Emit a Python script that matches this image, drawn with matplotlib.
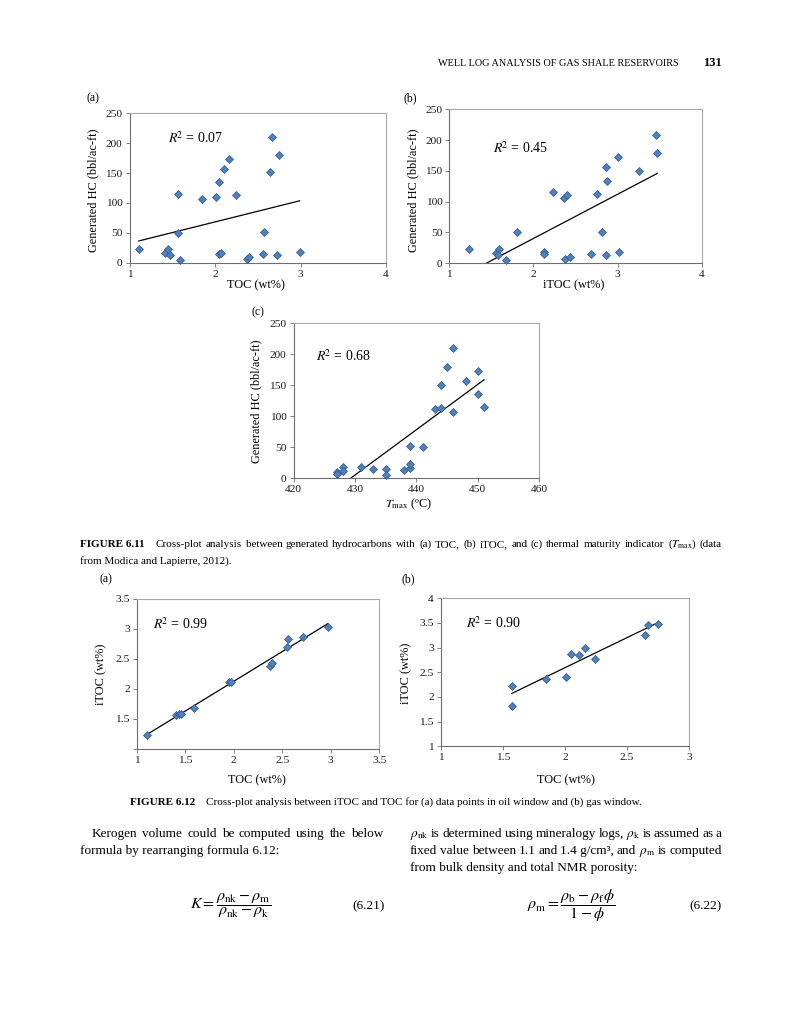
import numpy as np
import matplotlib
matplotlib.use('Agg')
import matplotlib.pyplot as plt

plt.rcParams['font.family'] = ['Liberation Serif', 'DejaVu Serif']
plt.rcParams['mathtext.fontset'] = 'stix'

# ---------------- data ----------------
# Figure 6.11 (a): TOC vs generated HC
toc_a = [1.11, 1.41, 1.45, 1.47, 1.57, 1.57, 1.59, 1.85, 2.01, 2.05, 2.11, 2.16,
         2.24, 2.05, 2.07, 2.37, 2.40, 2.56, 2.57, 2.64, 2.67, 2.75, 2.73, 2.99]
hc_a = [23, 16, 23, 13, 115, 50, 5, 106, 110, 135, 156, 173,
        113, 14, 17, 7, 10, 14, 51, 151, 210, 180, 13, 18]
r2_a = "0.07"

# Figure 6.11 (b): iTOC vs generated HC
itoc_b = [1.23, 1.56, 1.59, 1.58, 1.67, 1.81, 2.12, 2.12, 2.23, 2.36, 2.40, 2.38,
          2.43, 2.68, 2.75, 2.81, 2.86, 2.87, 2.86, 3.00, 3.02, 3.26, 3.46, 3.47]
hc_b = [23, 16, 23, 13, 5, 50, 18, 15, 115, 106, 111, 7,
        10, 15, 113, 51, 156, 134, 13, 172, 18, 150, 209, 179]
r2_b = "0.45"

# Figure 6.11 (c): Tmax vs generated HC
tmax_c = [427, 427, 428, 428, 431, 433, 435, 435, 438, 439, 439, 439,
          441, 443, 444, 444, 445, 446, 446, 448, 450, 450, 451]
hc_c = [10, 7, 18, 12, 17, 14, 14, 5, 13, 16, 23, 51,
        50, 111, 113, 151, 180, 210, 106, 156, 173, 135, 115]
r2_c = "0.68"

# Figure 6.12 (a): oil window TOC vs iTOC
toc_oil = [1.11, 1.41, 1.44, 1.46, 1.59, 1.95, 1.97, 2.37, 2.39, 2.55, 2.56, 2.71, 2.97]
itoc_oil = [1.23, 1.57, 1.59, 1.59, 1.68, 2.11, 2.12, 2.39, 2.43, 2.70, 2.83, 2.87, 3.03]
r2_oil = "0.99"

# Figure 6.12 (b): gas window TOC vs iTOC
toc_gas = [1.57, 1.57, 1.85, 2.01, 2.05, 2.11, 2.16, 2.24, 2.64, 2.67, 2.75]
itoc_gas = [2.23, 1.82, 2.37, 2.40, 2.88, 2.86, 3.00, 2.76, 3.26, 3.46, 3.47]
r2_gas = "0.90"

# ---------------- figure ----------------
W, H = 791, 1024
fig = plt.figure(figsize=(W / 100, H / 100), dpi=100)
fig.patch.set_facecolor('white')
R = fig.canvas.get_renderer()


def P(x, y):
    return (x / W, 1 - y / H)


def add_axes(l, r, t, b):
    return fig.add_axes([l / W, 1 - b / H, (r - l) / W, (b - t) / H])


def style(ax):
    for s in ['left', 'bottom']:
        ax.spines[s].set_color('#6e6e6e')
    for s in ['top', 'right']:
        ax.spines[s].set_color('#a8a8a8')
    for s in ax.spines.values():
        s.set_linewidth(0.8)
    ax.tick_params(direction='out', length=3, width=0.6, color='#6e6e6e',
                   labelsize=8.2, pad=2, labelcolor='#1a1a1a',
                   top=False, right=False)


def fmt(v):
    return ('%g' % v)


def scatter_fit(ax, x, y, r2, r2pos):
    x = np.asarray(x, float)
    y = np.asarray(y, float)
    k, c = np.polyfit(x, y, 1)
    xs = np.array([x.min(), x.max()])
    ax.plot(xs, k * xs + c, color='black', lw=0.9, zorder=2)
    ax.plot(x, y, linestyle='none', marker='D', ms=4.3, mfc='#4f81bd',
            mec='#2f5689', mew=0.5, zorder=3, clip_on=False)
    ax.text(r2pos[0], r2pos[1], r'$R^{\!2}$ = ' + r2, transform=ax.transAxes,
            fontsize=10, ha='left', va='center')


def set_labels(ax, xl, xpos, yl, ypos, size=8.8):
    ax.set_xlabel(xl, fontsize=size)
    ax.xaxis.set_label_coords(*P(*xpos), transform=fig.transFigure)
    ax.xaxis.label.set_va('center')
    ax.set_ylabel(yl, fontsize=size)
    ax.yaxis.set_label_coords(*P(*ypos), transform=fig.transFigure)
    ax.yaxis.label.set_va('center')


def axis_setup(ax, xt, yt, ylabels=None):
    ax.set_xlim(xt[0], xt[-1])
    ax.set_ylim(yt[0], yt[-1])
    ax.set_xticks(xt)
    ax.set_xticklabels([fmt(v) for v in xt])
    ax.set_yticks(yt)
    ax.set_yticklabels(ylabels if ylabels is not None else [fmt(v) for v in yt])


hc_ticks = [0, 50, 100, 150, 200, 250]
hc_label = 'Generated HC (bbl/ac-ft)'

# 6.11 (a)
ax = add_axes(129.5, 386, 113.3, 262.7)
style(ax)
axis_setup(ax, [1, 2, 3, 4], hc_ticks)
scatter_fit(ax, toc_a, hc_a, r2_a, (0.15, 0.835))
set_labels(ax, 'TOC (wt%)', (256, 285), hc_label, (93, 190))
fig.text(*P(93, 98), '(a)', fontsize=8.5, ha='center', va='center')

# 6.11 (b)
ax = add_axes(449.3, 701.7, 109.3, 263.3)
style(ax)
axis_setup(ax, [1, 2, 3, 4], hc_ticks)
scatter_fit(ax, itoc_b, hc_b, r2_b, (0.175, 0.75))
set_labels(ax, 'iTOC (wt%)', (574, 285), hc_label, (413, 190))
fig.text(*P(410, 98), '(b)', fontsize=8.5, ha='center', va='center')

# 6.11 (c)
ax = add_axes(293.5, 539.3, 323.3, 478)
style(ax)
axis_setup(ax, [420, 430, 440, 450, 460], hc_ticks)
scatter_fit(ax, tmax_c, hc_c, r2_c, (0.09, 0.79))
set_labels(ax, r'$T_{\rm max}$ (ºC)', (408, 504), hc_label, (256, 401))
fig.text(*P(258, 312), '(c)', fontsize=8.5, ha='center', va='center')

# 6.12 (a)
ax = add_axes(136.7, 379.3, 599, 749)
style(ax)
yt = [1, 1.5, 2, 2.5, 3, 3.5]
axis_setup(ax, [1, 1.5, 2, 2.5, 3, 3.5], yt, [''] + [fmt(v) for v in yt[1:]])
scatter_fit(ax, toc_oil, itoc_oil, r2_oil, (0.067, 0.83))
set_labels(ax, 'TOC (wt%)', (257, 780), 'iTOC (wt%)', (101, 674))
fig.text(*P(106, 579), '(a)', fontsize=8.5, ha='center', va='center')

# 6.12 (b)
ax = add_axes(440.7, 689.3, 598.3, 746.3)
style(ax)
axis_setup(ax, [1, 1.5, 2, 2.5, 3], [1, 1.5, 2, 2.5, 3, 3.5, 4])
scatter_fit(ax, toc_gas, itoc_gas, r2_gas, (0.10, 0.83))
set_labels(ax, 'TOC (wt%)', (566, 780), 'iTOC (wt%)', (406, 673))
fig.text(*P(408, 579), '(b)', fontsize=8.5, ha='center', va='center')


# ---------------- page text ----------------
def justify(parts, x0, x1, yb, size):
    ts, extras = [], []
    for p in parts:
        s, wt = p[0], p[1]
        ex = p[2] if len(p) > 2 else 0
        ts.append(fig.text(0, 0, s, fontsize=size, fontweight=wt,
                           ha='left', va='baseline'))
        extras.append(ex)
    ws = [t.get_window_extent(R).width for t in ts]
    gap = (x1 - x0 - sum(ws) - sum(extras)) / (len(ts) - 1)
    x = x0
    for i, (t, w) in enumerate(zip(ts, ws)):
        x += extras[i]
        t.set_position(P(x, yb))
        x += w + gap


def words(s, wt='normal'):
    return [(w, wt) for w in s.split(' ')]


# header
hdr = fig.text(*P(438, 66), 'WELL LOG ANALYSIS OF GAS SHALE RESERVOIRS',
               fontsize=8, ha='left', va='baseline')
wdt = hdr.get_window_extent(R).width
hdr.set_fontsize(8 * 241 / wdt)
fig.text(*P(722, 66), '131', fontsize=9, fontweight='bold', ha='right', va='baseline')

# caption 6.11
cap_size = 8
parts = [('FIGURE 6.11', 'bold')]
cw = words('Cross-plot analysis between generated hydrocarbons with (a) TOC, (b) iTOC, and (c) thermal maturity indicator')
cw[0] = (cw[0][0], 'normal', 8)
parts += cw + [(r'($T_{\rm max}$)', 'normal'), ('(data', 'normal')]
justify(parts, 80, 722, 547, cap_size)
fig.text(*P(80, 564), 'from Modica and Lapierre, 2012).', fontsize=cap_size,
         ha='left', va='baseline')

# caption 6.12
t1 = fig.text(*P(130, 805), 'FIGURE 6.12', fontsize=cap_size, fontweight='bold',
              ha='left', va='baseline')
w1 = t1.get_window_extent(R).width
fig.text(*P(130 + w1 + 11, 805),
         'Cross-plot analysis between iTOC and TOC for (a) data points in oil window and (b) gas window.',
         fontsize=cap_size, ha='left', va='baseline')

# body text
bs = 9.5
justify(words('Kerogen volume could be computed using the below'), 92, 383, 837, bs)
fig.text(*P(80, 854), 'formula by rearranging formula 6.12:', fontsize=bs,
         ha='left', va='baseline')
justify([(r'$\rho_{\rm nk}$', 'normal')] + words('is determined using mineralogy logs,')
        + [(r'$\rho_{\rm k}$', 'normal')] + words('is assumed as a'), 410, 722, 837, bs)
justify(words('fixed value between 1.1 and') + [('1.4 g/cm³,', 'normal'), ('and', 'normal'),
        (r'$\rho_{\rm m}$', 'normal')] + words('is computed'), 410, 722, 854, bs)
fig.text(*P(410, 871), 'from bulk density and total NMR porosity:', fontsize=bs,
         ha='left', va='baseline')

# equations
fig.text(*P(190, 906), r'$K=\dfrac{\rho_{\rm nk}-\rho_{\rm m}}{\rho_{\rm nk}-\rho_{\rm k}}$',
         fontsize=11.5, ha='left', va='center')
fig.text(*P(385, 906), '(6.21)', fontsize=bs, ha='right', va='center')
fig.text(*P(527, 906), r'$\rho_{\rm m}=\dfrac{\rho_{\rm b}-\rho_{\rm f}\phi}{1-\phi}$',
         fontsize=11.5, ha='left', va='center')
fig.text(*P(722, 906), '(6.22)', fontsize=bs, ha='right', va='center')

fig.savefig('out.png', dpi=100, facecolor='white')
